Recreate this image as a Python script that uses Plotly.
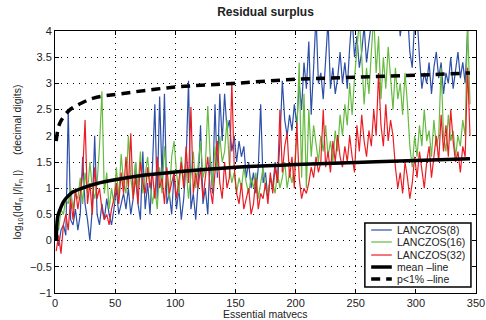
import plotly.graph_objects as go

matvecs = list(range(1, 346, 2))

lanczos8 = [
    0.1, -0.1, 0.2, 0.3, 0.1, 2.5, 0.4, 0.3, 0.6, 0.2,
    0.5, 1.6, 0.7, 0.4, 0.0, 0.6, 2.0, 0.5, 0.3, 0.7,
    0.4, 0.8, 0.5, 0.3, 0.6, 1.0, 0.5, 0.7, 0.9, 0.6,
    1.0, 0.5, 0.8, 1.5, 0.7, 0.4, 1.7, 0.6, 1.1, 0.5,
    1.4, 2.6, 0.8, 2.75, 1.2, 2.8, 0.7, 0.9, 0.5, 1.3,
    0.6, 1.0, 0.4, 0.8, 1.5, 3.05, 0.6, 0.9, 0.4, 1.1,
    2.2, 0.7, 1.0, 0.5, 1.6, 0.9, 2.6, 1.2, 2.8, 1.9,
    2.8, 2.1, 2.3, 1.7, 2.0, 1.5, 1.9, 1.6, 1.8, 1.2,
    1.5, 1.0, 1.3, 0.9, 1.4, 2.6, 1.1, 1.3, 0.8, 1.2,
    1.0, 1.5, 1.1, 1.9, 3.05, 2.3, 2.0, 2.4, 2.1, 2.6,
    2.2, 3.0, 2.5, 3.4, 2.9, 3.8, 2.4, 3.3, 4.3, 3.0,
    3.2, 2.7, 3.5, 4.2, 2.9, 3.3, 2.8, 3.1, 3.6, 3.0,
    3.4, 2.9, 3.7, 4.3, 3.5, 3.9, 3.3, 3.6, 4.1, 3.4,
    3.8, 4.3, 4.5, 4.2, 4.6, 4.4, 4.3, 4.5, 4.2, 4.4,
    4.2, 4.4, 4.5, 3.9, 4.3, 4.1, 4.4, 3.6, 3.3, 4.2,
    4.3, 3.5, 2.9, 3.2, 3.0, 3.4, 2.8, 3.3, 3.6, 3.1,
    3.4, 2.8, 3.2, 3.0, 3.5, 2.9, 3.3, 3.6, 3.1, 3.4,
    3.0, 4.0, 4.4,
]

lanczos16 = [
    0.3, 0.2, 0.6, 0.5, 0.8, 0.7, 1.0, 0.6, 0.9, 0.8,
    1.2, 0.7, 1.3, 0.9, 1.5, 1.0, 0.8, 1.1, 1.8, 2.85,
    0.9, 1.3, 0.6, 1.0, 0.7, 1.4, 0.8, 1.65, 1.1, 0.9,
    2.0, 1.2, 0.8, 1.5, 1.0, 1.7, 0.9, 1.3, 1.6, 1.1,
    0.7, 1.0, 0.6, 1.4, 0.9, 1.8, 1.2, 0.8, 1.6, 1.9,
    1.3, 0.9, 1.6, 1.1, 1.4, 0.8, 1.2, 1.7, 1.0, 1.5,
    1.9, 1.2, 1.4, 2.57, 1.6, 1.0, 1.8, 1.3, 2.0, 1.5,
    1.7, 2.3, 1.4, 1.1, 1.3, 0.9, 1.2, 1.0, 1.4, 1.1,
    0.9, 1.2, 1.0, 1.3, 0.8, 1.1, 1.4, 1.0, 0.9, 1.2,
    1.1, 0.9, 1.3, 1.0, 1.2, 1.5, 1.0, 1.3, 1.1, 1.4,
    2.0, 3.4, 1.2, 2.8, 1.0, 2.5, 1.6, 2.2, 1.8, 1.5,
    2.0, 1.7, 2.2, 1.6, 1.9, 1.5, 2.1, 1.7, 2.4, 2.0,
    2.6, 2.2, 3.0, 2.4, 3.1, 3.8, 4.2, 3.5, 2.6, 3.3,
    2.8, 3.6, 4.3, 3.2, 3.9, 2.7, 3.5, 2.9, 3.7, 3.1,
    2.5, 3.3, 2.7, 3.0, 2.4, 3.2, 2.6, 1.8, 1.4, 2.0,
    1.6, 2.2, 1.8, 2.5, 1.9, 2.1, 1.6, 2.3, 1.8, 2.0,
    3.3, 2.0, 1.7, 2.4, 1.9, 2.1, 1.6, 2.0, 1.8, 2.3,
    2.0, 4.2, 2.6,
]

lanczos32 = [
    -0.2, 0.1, -0.25, 0.3, 0.5, 0.2, 0.8, 0.4, 1.0, 0.6,
    0.9, 1.3, 2.3, 0.7, 1.1, 0.5, 1.4, 0.8, 1.0, 0.6,
    0.4, 0.5, 0.3, 0.6, 0.8, 1.1, 0.7, 1.3, 0.9, 1.6,
    1.0, 2.05, 0.8, 1.2, 0.7, 1.5, 1.1, 0.9, 1.4, 1.0,
    1.3, 0.8, 1.6, 1.0, 1.2, 0.7, 1.4, 0.9, 1.1, 1.3,
    0.8, 1.2, 1.5, 1.0, 1.8, 1.1, 2.55, 0.9, 1.3, 1.0,
    1.4, 0.8, 1.2, 1.6, 1.0, 0.7, 1.3, 1.9, 1.1, 0.8,
    1.5, 1.0, 1.2, 3.03, 1.4, 0.9, 0.7, 1.1, 0.6, 0.8,
    1.0, 0.5, 0.7, 1.2, 0.6, 0.9, 0.8, 1.1, 0.7, 1.3,
    0.9, 1.4, 1.1, 2.5, 1.3, 1.8, 2.05, 1.2, 1.6, 1.0,
    2.25, 1.2, 0.8, 1.0, 0.9, 1.1, 1.4, 1.2, 1.6, 1.3,
    1.5, 2.5, 1.4, 1.7, 1.3, 1.9, 1.5, 2.0, 1.6, 1.4,
    1.8, 1.5, 2.0, 1.6, 1.3, 2.2, 1.7, 2.4, 1.9, 1.6,
    2.1, 1.8, 2.5, 2.0, 3.2, 2.2, 1.8, 2.6, 1.9, 2.3,
    2.0, 1.4, 1.0, 1.3, 0.9, 1.5, 1.2, 0.8, 1.1, 1.6,
    1.2, 1.7, 1.3, 1.0, 1.5, 1.8, 1.2, 1.6, 2.0, 1.5,
    2.4, 1.7, 2.2, 1.6, 2.5, 1.9, 1.5, 1.7, 1.3, 1.8,
    1.6, 3.3, 2.0,
]

mean_x = [1, 2, 3, 5, 7, 10, 15, 25, 35, 50, 75, 100, 150, 200, 250, 300, 345]
mean_y = [0.0, 0.42, 0.52, 0.64, 0.74, 0.83, 0.93, 1.02, 1.09, 1.16, 1.25, 1.31, 1.40, 1.45, 1.49, 1.53, 1.56]

p1_x = [1, 4, 12, 20, 32, 54, 100, 148, 202, 254, 304, 345]
p1_y = [1.9, 2.24, 2.49, 2.6, 2.72, 2.8, 2.93, 3.0, 3.08, 3.12, 3.16, 3.2]

series_names = ["LANCZOS(8)", "LANCZOS(16)", "LANCZOS(32)", "mean \u2013line", "p<1% \u2013line"]
x_ticks = [0, 50, 100, 150, 200, 250, 300, 350]
y_ticks = [-1, -0.5, 0, 0.5, 1, 1.5, 2, 2.5, 3, 3.5, 4]

font_family = "Liberation Sans, Arial, sans-serif"
colors = ["#2d4fa8", "#66bb40", "#ec1c24", "black", "black"]
widths = [1.2, 1.2, 1.2, 3.5, 3.5]
dashes = ["solid", "solid", "solid", "solid", "9px,6px"]

fig = go.Figure()
for i, ys in enumerate([lanczos8, lanczos16, lanczos32]):
    fig.add_trace(go.Scatter(x=matvecs, y=ys, mode="lines", name=series_names[i],
                             line=dict(color=colors[i], width=widths[i])))

fig.add_trace(go.Scatter(x=mean_x, y=mean_y, mode="lines", name=series_names[3],
                         line=dict(color=colors[3], width=widths[3], shape="spline")))
fig.add_trace(go.Scatter(x=p1_x, y=p1_y, mode="lines", name=series_names[4],
                         line=dict(color=colors[4], width=widths[4], dash=dashes[4], shape="spline")))

# compact legend box (paper coordinates)
shapes = [dict(type="rect", xref="paper", yref="paper", x0=0.736, x1=0.988, y0=0.023, y1=0.267,
               line=dict(color="black", width=1.5), fillcolor="white", layer="above")]
annotations = []
entry_y = [0.2405, 0.1947, 0.145, 0.0992, 0.0534]
for i, name in enumerate(series_names):
    shapes.append(dict(type="line", xref="paper", yref="paper", x0=0.751, x1=0.800,
                       y0=entry_y[i], y1=entry_y[i], layer="above",
                       line=dict(color=colors[i], width=widths[i] if i < 3 else 3.5, dash=dashes[i])))
    annotations.append(dict(xref="paper", yref="paper", x=0.808, y=entry_y[i], text=name,
                            showarrow=False, xanchor="left", yanchor="middle",
                            font=dict(size=10.5, color="#222", family=font_family)))

# x-axis title as a positioned annotation
annotations.append(dict(xref="paper", yref="paper", x=0.5, y=-0.082, text="Essential matvecs",
                        showarrow=False, xanchor="center", yanchor="middle",
                        font=dict(size=10.5, color="#222", family=font_family)))

axis_common = dict(
    showline=True, linecolor="black", linewidth=1, mirror="ticks",
    ticks="inside", ticklen=4, tickcolor="black", automargin=False,
    showgrid=True, gridcolor="black", gridwidth=1, griddash="1px,5px",
    zeroline=False, tickfont=dict(size=11, color="#222", family=font_family),
)

fig.update_layout(
    width=486, height=320,
    margin=dict(l=55, r=10, t=31, b=27),
    paper_bgcolor="white", plot_bgcolor="white",
    font=dict(family=font_family, color="#222"),
    title=dict(text="<b>Residual surplus</b>", xref="paper", x=0.5, xanchor="center",
               y=0.962, yanchor="middle", font=dict(size=12, color="#222"), automargin=False),
    xaxis=dict(range=[0, 350], tickvals=x_ticks, **axis_common),
    yaxis=dict(range=[-1, 4], tickvals=y_ticks,
               title=dict(text="log<sub>10</sub>(|dr<sub>n</sub> |/|r<sub>n</sub> |)     (decimal digits)",
                          font=dict(size=10.5), standoff=6),
               **axis_common),
    shapes=shapes,
    annotations=annotations,
    showlegend=False,
)

fig.write_html("out.html")
